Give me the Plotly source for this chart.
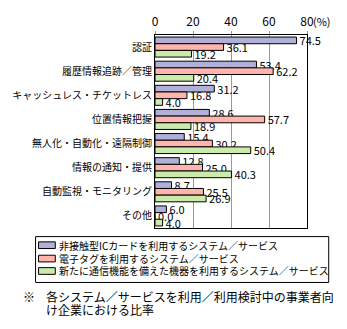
import plotly.graph_objects as go

categories = ["認証", "履歴情報追跡／管理", "キャッシュレス・チケットレス", "位置情報把握",
              "無人化・自動化・遠隔制御", "情報の通知・提供", "自動監視・モニタリング", "その他"]
series_names = ["非接触型ICカードを利用するシステム／サービス",
                "電子タグを利用するシステム／サービス",
                "新たに通信機能を備えた機器を利用するシステム／サービス"]
ic_card = [74.5, 53.4, 31.2, 28.6, 15.4, 12.8, 8.7, 6.0]
e_tag = [36.1, 62.2, 16.8, 57.7, 30.2, 25.0, 25.5, 0.0]
new_device = [19.2, 20.4, 4.0, 18.9, 50.4, 40.3, 26.9, 4.0]
colors = ["#b0b0d8", "#ffb4ac", "#cceaaa"]
tick_vals = [0, 20, 40, 60, 80]
tick_text = ["0", "20", "40", "60", "80"]
unit_label = "(%)"
note_mark = "※"
note_lines = ["各システム／サービスを利用／利用検討中の事業者向", "け企業における比率"]

FONT = "Noto Sans CJK JP"
W, H = 347, 329
ML, MR, MT, MB = 153, 40, 26, 101
PW, PH = W - ML - MR, H - MT - MB


def px(x):
    return (x - ML) / PW


def py(y):
    return (H - MB - y) / PH


fig = go.Figure()
for name, vals, col in zip(series_names, [ic_card, e_tag, new_device], colors):
    fig.add_trace(go.Bar(
        y=categories, x=vals, name=name, orientation="h",
        marker=dict(color=col, line=dict(color="black", width=1)),
        text=[f"{v:.1f}" for v in vals], textposition="outside",
        textfont=dict(size=11, color="black", family=FONT),
        constraintext="none", cliponaxis=False, showlegend=False,
    ))

fig.update_layout(
    width=W, height=H,
    margin=dict(l=ML, r=MR, t=MT, b=MB),
    barmode="group", bargap=0.17, bargroupgap=0,
    plot_bgcolor="white", paper_bgcolor="white",
    font=dict(family=FONT, size=10, color="black"),
    showlegend=False,
    xaxis=dict(side="top", range=[0, 80], tickvals=tick_vals, ticktext=tick_text,
               showgrid=True, gridcolor="#999999", gridwidth=1,
               showline=True, linecolor="black", linewidth=1, mirror=True,
               ticks="outside", ticklen=3, tickcolor="#999999",
               tickfont=dict(size=12, family=FONT), zeroline=False),
    yaxis=dict(autorange="reversed", showline=True, linecolor="black", linewidth=1,
               mirror=True, ticks="", tickfont=dict(size=10, family=FONT)),
)

# unit label next to the "80" tick
fig.add_annotation(x=80, y=1, xref="x", yref="paper", text=unit_label, showarrow=False,
                   xanchor="left", yanchor="bottom", xshift=4, yshift=4,
                   font=dict(size=11, family=FONT))

# legend box drawn manually (compact like the reference)
fig.add_shape(type="rect", xref="paper", yref="paper",
              x0=px(32), x1=px(329), y0=py(237), y1=py(285),
              line=dict(color="black", width=1), fillcolor="white")
row_centers = [246, 260, 273]
for name, col, yc in zip(series_names, colors, row_centers):
    fig.add_shape(type="rect", xref="paper", yref="paper",
                  x0=px(35), x1=px(52), y0=py(yc - 3.5), y1=py(yc + 3.5),
                  line=dict(color="black", width=1), fillcolor=col)
    fig.add_annotation(x=px(54), y=py(yc), xref="paper", yref="paper", text=name,
                       showarrow=False, xanchor="left", yanchor="middle",
                       font=dict(size=10, family=FONT))

# footnote
fig.add_annotation(x=px(17), y=py(300), xref="paper", yref="paper", text=note_mark,
                   showarrow=False, xanchor="left", yanchor="middle",
                   font=dict(size=12, family=FONT))
fig.add_annotation(x=px(41), y=py(300), xref="paper", yref="paper", text=note_lines[0],
                   showarrow=False, xanchor="left", yanchor="middle",
                   font=dict(size=12, family=FONT))
fig.add_annotation(x=px(41), y=py(313), xref="paper", yref="paper", text=note_lines[1],
                   showarrow=False, xanchor="left", yanchor="middle",
                   font=dict(size=12, family=FONT))

fig.write_html("out.html")
